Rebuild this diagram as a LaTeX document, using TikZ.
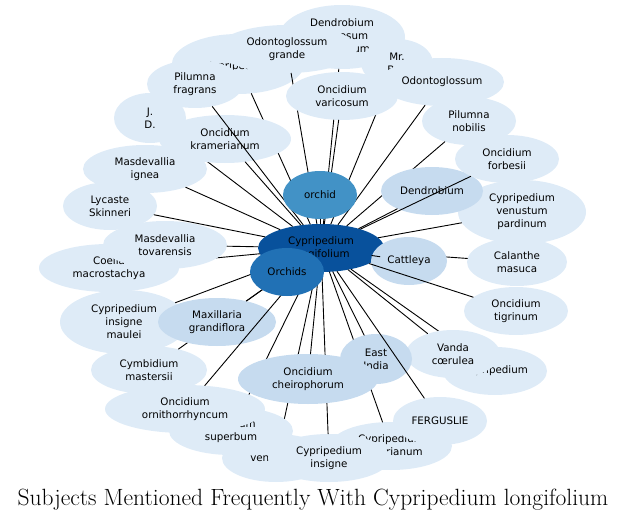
\documentclass[tikz,border=0pt]{standalone}
\usepackage{fontspec}
\usepackage{tikz}
\usetikzlibrary{shapes.geometric}
\newfontfamily\nodefont{DejaVu Sans}
\definecolor{bl0}{HTML}{DEEBF7}
\definecolor{bl1}{HTML}{C6DBEF}
\definecolor{bl2}{HTML}{2171B5}
\definecolor{bl3}{HTML}{4292C6}
\definecolor{bl4}{HTML}{08519C}

\begin{document}
\begin{tikzpicture}[x=1pt,y=-1pt,line cap=round,line join=round,
    bub/.style={ellipse,inner sep=0pt,align=center,text=black,
      font=\nodefont\fontsize{10.3}{13}\selectfont},
    rad/.style 2 args={minimum width=2*#1pt,minimum height=2*#2pt},
    c0/.style={fill=bl0},
    c1/.style={fill=bl1},
    c2/.style={fill=bl2},
    c3/.style={fill=bl3},
    c4/.style={fill=bl4},
    link/.style={line width=0.9pt}]
        \useasboundingbox (0,0) rectangle (627,519);
        \node[bub,c4,rad={63}{24}] (cl) at (321,248) {Cypripedium\\longifolium};
        % top
        \node[bub,c0,rad={66}{30}] (cyphid) at (238,64) {{}\\Cypripedium};
        \draw[link] (cl) -- (cyphid);
        \node[bub,c0,rad={63}{32}] (dentop) at (342,37) {Dendrobium\\formosum\\giganteum};
        \draw[link] (cl) -- (dentop);
        \node[bub,c0,rad={70}{24}] (odogr) at (287,49) {Odontoglossum\\grande};
        \draw[link] (cl) -- (odogr);
        \node[bub,c0,rad={36}{24}] (mr) at (397,63) {Mr.\\Bull};
        \draw[link] (cl) -- (mr);
        \node[bub,c0,rad={62}{24}] (odo) at (442,82) {Odontoglossum};
        \draw[link] (cl) -- (odo);
        \node[bub,c0,rad={56}{24}] (onvar) at (342,96) {Oncidium\\varicosum};
        \draw[link] (cl) -- (onvar);
        % upper left
        \node[bub,c0,rad={36}{25}] (jd) at (150,118) {J.\\D.};
        \draw[link] (cl) -- (jd);
        \node[bub,c0,rad={66}{24}] (onkra) at (225,139) {Oncidium\\kramerianum};
        \draw[link] (cl) -- (onkra);
        \node[bub,c0,rad={48}{24}] (pilfr) at (195,84) {Pilumna\\fragrans};
        \draw[link] (cl) -- (pilfr);
        % upper right
        \node[bub,c0,rad={47}{24}] (pilnob) at (469,121) {Pilumna\\nobilis};
        \draw[link] (cl) -- (pilnob);
        \node[bub,c0,rad={64}{32}] (cypven) at (522,212) {Cypripedium\\venustum\\pardinum};
        \draw[link] (cl) -- (cypven);
        \node[bub,c1,rad={51}{24}] (dend) at (432,191) {Dendrobium};
        \draw[link] (cl) -- (dend);
        \node[bub,c0,rad={52}{24}] (onfor) at (507,159) {Oncidium\\forbesii};
        \draw[link] (cl) -- (onfor);
        % right
        \node[bub,c0,rad={50}{24}] (calm) at (517,262) {Calanthe\\masuca};
        \draw[link] (cl) -- (calm);
        \node[bub,c1,rad={38}{24}] (catt) at (409,261) {Cattleya};
        \draw[link] (cl) -- (catt);
        \node[bub,c0,rad={52}{24}] (ontig) at (516,311) {Oncidium\\tigrinum};
        \draw[link] (cl) -- (ontig);
        \node[bub,c0,rad={52}{24}] (cyp) at (495,371) {Cypripedium};
        \draw[link] (cl) -- (cyp);
        \node[bub,c0,rad={47}{24}] (vanda) at (453,354) {Vanda\\cœrulea};
        \draw[link] (cl) -- (vanda);
        % bottom
        \node[bub,c0,rad={61}{24}] (cypspi) at (391,446) {Cypripedium\\spicerianum};
        \draw[link] (cl) -- (cypspi);
        \node[bub,c1,rad={36}{25}] (eind) at (376,359) {East\\India};
        \draw[link] (cl) -- (eind);
        \node[bub,c0,rad={47}{24}] (fergus) at (440,421) {FERGUSLIE};
        \draw[link] (cl) -- (fergus);
        \node[bub,c0,rad={54}{24}] (venus) at (276,458) {venustum};
        \draw[link] (cl) -- (venus);
        \node[bub,c0,rad={62}{24}] (onsup) at (231,431) {Oncidium\\superbum};
        \draw[link] (cl) -- (onsup);
        \node[bub,c0,rad={61}{24}] (cypins) at (329,458) {Cypripedium\\insigne};
        \draw[link] (cl) -- (cypins);
        \node[bub,c1,rad={70}{25}] (onche) at (308,379) {Oncidium\\cheirophorum};
        \draw[link] (cl) -- (onche);
        % lower left
        \node[bub,c0,rad={58}{24}] (cymma) at (149,370) {Cymbidium\\mastersii};
        \draw[link] (cl) -- (cymma);
        \node[bub,c0,rad={64}{32}] (cypmau) at (124,322) {Cypripedium\\insigne\\maulei};
        \draw[link] (cl) -- (cypmau);
        \node[bub,c1,rad={59}{24}] (maxgr) at (217,322) {Maxillaria\\grandiflora};
        \draw[link] (cl) -- (maxgr);
        \node[bub,c0,rad={80}{24}] (onorn) at (185,409) {Oncidium\\ornithorrhyncum};
        \draw[link] (cl) -- (onorn);
        % left
        \node[bub,c0,rad={70}{24}] (coel) at (109,268) {Coelia\\macrostachya};
        \draw[link] (cl) -- (coel);
        \node[bub,c0,rad={62}{24}] (mastov) at (165,245) {Masdevallia\\tovarensis};
        \draw[link] (cl) -- (mastov);
        \node[bub,c0,rad={47}{24}] (lyc) at (110,206) {Lycaste\\Skinneri};
        \draw[link] (cl) -- (lyc);
        \node[bub,c0,rad={62}{24}] (masign) at (145,169) {Masdevallia\\ignea};
        \draw[link] (cl) -- (masign);
        % centre
        \node[bub,c3,rad={37}{24}] (orch) at (320,195) {orchid};
        \draw[link] (cl) -- (orch);
        \node[bub,c2,rad={37}{24}] (orchs) at (287,272) {Orchids};
        % 
        \node[anchor=base,font=\fontsize{23.5}{28}\selectfont] (title) at (313,505)
          {Subjects Mentioned Frequently With Cypripedium longifolium};
      \end{tikzpicture}
\end{document}
